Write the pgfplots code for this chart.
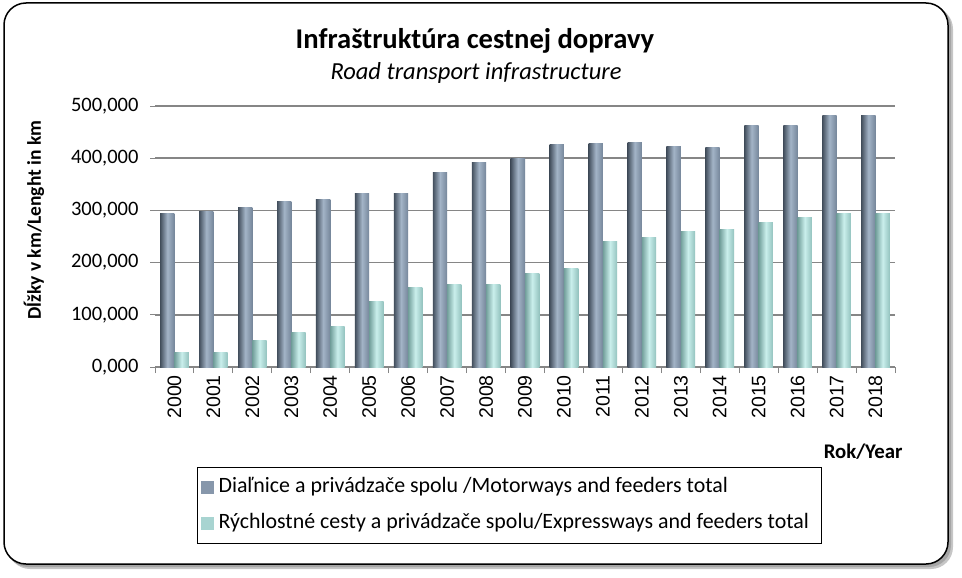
\documentclass[border=0pt]{standalone}
\usepackage{pgfplots}
\usepackage{pgfplotstable}
\pgfplotsset{compat=1.18}
\usepackage{fontspec}
\setmainfont{Carlito}
\newfontfamily\arialf{Liberation Sans}
\definecolor{gridc}{HTML}{868686}
\definecolor{mL}{HTML}{434F5D}
\definecolor{mM}{HTML}{A3B4C7}
\definecolor{mR}{HTML}{75869A}
\definecolor{eL}{HTML}{729F9B}
\definecolor{eM}{HTML}{CAEFEC}
\definecolor{eR}{HTML}{93C2BE}
\definecolor{legM}{HTML}{8797AB}
\definecolor{legE}{HTML}{A8D4D1}
\pgfplotstableread{
x   m      e
0   295    27
1   298    27
2   305    51
3   316.6  65.6
4   321.7  77
5   333    125.5
6   333    152
7   372    158
8   391.7  158
9   399.4  179
10  426    188.5
11  429    241
12  431    248
13  421.7  259
14  419.7  264
15  463    276
16  463    286
17  482    294
18  482    294
}\data
\begin{document}
\begin{tikzpicture}
\useasboundingbox (0pt,0pt) rectangle (962pt,-578pt);
% frame with shadow
\fill[gray!45, rounded corners=22pt] (8pt,-7pt) rectangle (953pt,-569pt);
\fill[gray!70, rounded corners=22pt] (6pt,-5pt) rectangle (951pt,-567pt);
\draw[black, line width=1.5pt, fill=white, rounded corners=22pt] (4pt,-3pt) rectangle (948pt,-564pt);
\node[font=\fontsize{28.6}{32}\selectfont\bfseries] at (475pt,-41pt) {Infraštruktúra cestnej dopravy};
\node[font=\fontsize{24.5}{28}\selectfont\itshape] at (476pt,-73pt) {Road transport infrastructure};
\begin{axis}[
  at={(155pt,-367pt)}, anchor=south west,
  scale only axis, width=740pt, height=261pt,
  xmin=-0.5, xmax=18.5, ymin=0, ymax=500,
  ybar=0pt, bar width=14.3pt,
  axis x line*=bottom, axis y line*=left,
  x axis line style={draw=gridc, line width=1.2pt},
  y axis line style={draw=none},
  xtick={0,...,18},
  xticklabels={2000,2001,2002,2003,2004,2005,2006,2007,2008,2009,2010,2011,2012,2013,2014,2015,2016,2017,2018},
  minor xtick={-0.5,0.5,...,18.5},
  major x tick style={draw=none},
  minor x tick style={draw=gridc, line width=1pt},
  minor tick length=6pt,
  ytick={0,100,...,500},
  y tick style={draw=gridc, line width=1pt},
  major tick length=5pt,
  tick align=outside,
  ymajorgrids, grid style={draw=gridc, line width=1.5pt},
  xticklabel style={rotate=90, anchor=east, font=\arialf\fontsize{19.5}{22}\selectfont, inner sep=3pt},
  yticklabel style={font=\fontsize{20.5}{24}\selectfont, xshift=-8pt},
  /pgf/number format/assume math mode=true,
  yticklabel={\pgfmathprintnumber[fixed, fixed zerofill, precision=3, use comma]{\tick}},
  ylabel={Dĺžky v km/Lenght in km},
  ylabel style={font=\fontsize{19.5}{23}\selectfont\bfseries, at={(rel axis cs:-0.145,0.563)}, anchor=south},
  legend cell align=left,
  legend style={at={(rel axis cs:0.0568,-0.383)}, anchor=north west,
    draw=black, line width=1.3pt, inner xsep=2pt, inner ysep=9pt, row sep=14pt,
    font=\fontsize{21.9}{25}\selectfont,
    nodes={inner sep=2pt, text height=14pt, text depth=4pt}},
]
\pgfplotsinvokeforeach{0,...,18}{
\addplot[draw=none, bar shift=-7.15pt, left color=mL, right color=mR, middle color=mM, forget plot]
  table[x=x, y=m, restrict expr to domain={\coordindex}{#1:#1}] {\data};
\addplot[draw=none, bar shift=7.15pt, left color=eL, right color=eR, middle color=eM, forget plot]
  table[x=x, y=e, restrict expr to domain={\coordindex}{#1:#1}] {\data};
}
\addlegendimage{legend image code/.code={\path[draw=none, fill=none] (0pt,-1pt) rectangle (17pt,1pt); \fill[draw=none, fill=legM] (1pt,-6.5pt) rectangle (14pt,6.5pt);}}
\addlegendentry{\makebox[599pt][l]{Diaľnice a privádzače spolu /Motorways and feeders total}}
\addlegendimage{legend image code/.code={\path[draw=none, fill=none] (0pt,-1pt) rectangle (17pt,1pt); \fill[draw=none, fill=legE] (1pt,-6.5pt) rectangle (14pt,6.5pt);}}
\addlegendentry{\makebox[599pt][l]{Rýchlostné cesty a privádzače spolu/Expressways and feeders total}}
\end{axis}
\node[font=\fontsize{20.8}{24}\selectfont\bfseries, anchor=east] at (906pt,-452pt) {Rok/Year};
\end{tikzpicture}
\end{document}
